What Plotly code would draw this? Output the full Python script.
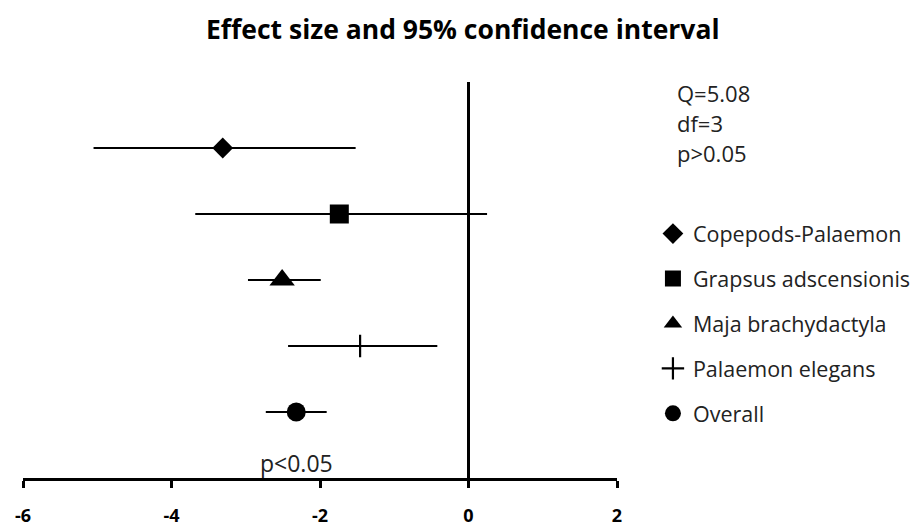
import plotly.graph_objects as go

species = ["Copepods-Palaemon", "Grapsus adscensionis", "Maja brachydactyla",
           "Palaemon elegans", "Overall"]
effect = [-3.31, -1.74, -2.51, -1.46, -2.32]
ci_low = [-5.05, -3.68, -2.97, -2.43, -2.73]
ci_high = [-1.52, 0.25, -1.99, -0.42, -1.91]
symbols = ["diamond", "square", "triangle-up", "cross-thin", "circle"]
sizes = [16, 19, 22, 16, 19]
x_ticks = [-6, -4, -2, 0, 2]
stats_text = ["Q=5.08", "df=3", "p>0.05"]
overall_p = "p<0.05"

n = len(species)
rows = [n + 1 - i for i in range(n)]

fig = go.Figure()
for i in range(n):
    sym = symbols[i]
    marker = dict(symbol=sym, size=sizes[i], color="black")
    if sym == "cross-thin":
        marker["line"] = dict(width=2.2, color="black")
    fig.add_trace(go.Scatter(
        x=[effect[i]], y=[rows[i]], mode="markers", name=species[i],
        legendgroup=species[i], marker=marker,
        error_x=dict(type="data", symmetric=False,
                     array=[ci_high[i] - effect[i]],
                     arrayminus=[effect[i] - ci_low[i]],
                     color="black", thickness=1.8, width=0),
    ))

fig.add_annotation(x=effect[-1], y=rows[-1] - 0.78, text=overall_p,
                   showarrow=False, font=dict(size=23, color="#222"),
                   xanchor="center", yanchor="middle")

stat_y = [0.972, 0.896, 0.82]
for t, yy in zip(stats_text, stat_y):
    fig.add_annotation(xref="paper", yref="paper", x=1.097, y=yy, text=t,
                       showarrow=False, xanchor="left", yanchor="middle",
                       font=dict(size=22, color="#222"))

fig.update_layout(
    width=915, height=521,
    margin=dict(l=14.7, r=306.3, t=74, b=51, autoexpand=False),
    paper_bgcolor="white", plot_bgcolor="white",
    font=dict(family="Open Sans", color="black"),
    title=dict(text="<b>Effect size and 95% confidence interval</b>",
               x=0.497, xref="container", xanchor="center",
               y=0.958, yref="container", yanchor="middle",
               font=dict(size=26.5, color="black", family="Open Sans")),
    showlegend=True,
    legend=dict(x=1.0605, xanchor="left", y=0.669, yanchor="top",
                traceorder="grouped", tracegroupgap=14,
                font=dict(size=21.5, color="#222"), bgcolor="rgba(0,0,0,0)"),
    xaxis=dict(range=[-6, 2], tickvals=x_ticks, ticktext=[str(v) for v in x_ticks],
               showgrid=False, showline=True, linecolor="black", linewidth=3,
               ticks="outside", ticklen=7, tickwidth=3, tickcolor="black",
               zeroline=True, zerolinecolor="black", zerolinewidth=3,
               tickfont=dict(size=18, color="black", family="Open Sans",
                             weight="bold"),
               ticklabelstandoff=12, automargin=False, fixedrange=True),
    yaxis=dict(range=[1, 7], visible=False, showgrid=False, zeroline=False,
               automargin=False, fixedrange=True),
)

fig.write_html("out.html")
